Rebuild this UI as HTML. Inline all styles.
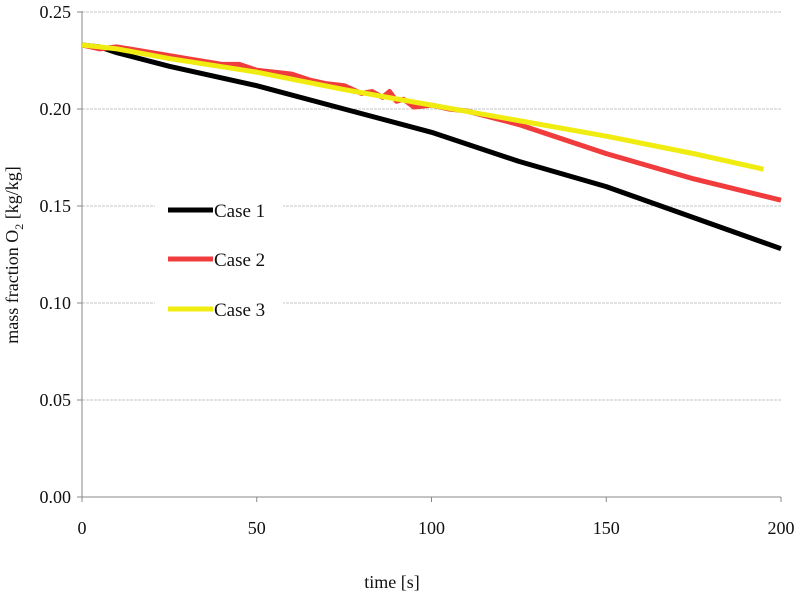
<!DOCTYPE html>
<html><head><meta charset="utf-8"><style>
body{margin:0;background:#fff}
svg text{font-family:"Liberation Serif",serif;fill:#111}
</style></head><body>
<svg width="800" height="600" id="c"></svg>
<script>
const xTicks=[0,50,100,150,200];
const yTicks=[0,0.05,0.10,0.15,0.20,0.25];
const yTickLabels=["0.00","0.05","0.10","0.15","0.20","0.25"];
const case1T=[0,5,10,25,50,75,100,125,150,175,200];
const case1V=[0.233,0.232,0.229,0.222,0.212,0.200,0.188,0.173,0.160,0.144,0.128];
const case2T=[0,5,10,20,30,40,45,50,60,65,70,75,80,83,86,88,90,92,95,100,105,110,125,150,175,200];
const case2V=[0.233,0.231,0.232,0.229,0.226,0.223,0.223,0.220,0.218,0.215,0.213,0.212,0.208,0.209,0.206,0.209,0.204,0.205,0.201,0.202,0.200,0.199,0.192,0.177,0.164,0.153];
const case3T=[0,5,10,25,50,75,100,125,150,175,195];
const case3V=[0.233,0.232,0.231,0.226,0.219,0.210,0.202,0.194,0.186,0.177,0.169];
const svg=document.getElementById('c');const NS='http://www.w3.org/2000/svg';
const X=t=>82+t/200*699, Y=v=>497-v/0.25*485;
function mk(tag,a,p){const e=document.createElementNS(NS,tag);for(const k in a)e.setAttribute(k,a[k]);(p||svg).appendChild(e);return e;}
yTicks.forEach((v,i)=>{
 if(v>0){const g=mk('line',{x1:82,x2:781,y1:Y(v),y2:Y(v),stroke:'#c4c4c4','stroke-dasharray':'3,1'});
 
 }
 mk('line',{x1:77,x2:82,y1:Y(v),y2:Y(v),stroke:'#888'});
 const t=mk('text',{x:71,y:Y(v)+6,'text-anchor':'end','font-size':18});t.textContent=yTickLabels[i];
 
 
});
xTicks.forEach(v=>{
 mk('line',{x1:X(v),x2:X(v),y1:497,y2:502,stroke:'#888'});
 const t=mk('text',{x:X(v),y:534,'text-anchor':'middle','font-size':18});t.textContent=v;
 
 
});
mk('line',{x1:82,x2:82,y1:11,y2:497,stroke:'#888'});
mk('line',{x1:82,x2:781,y1:497,y2:497,stroke:'#888'});
const lg=mk('rect',{x:155,y:190,width:128,height:140,fill:'#fff'});


function series(T,V,col,name){const p=mk('polyline',{points:T.map((t,i)=>X(t)+','+Y(V[i])).join(' '),fill:'none',stroke:col,'stroke-width':5,'stroke-linejoin':'round'});
 
 }
series(case1T,case1V,'#000','series-case-1');
series(case2T,case2V,'#f03c3c','series-case-2');
series(case3T,case3V,'#f0ec10','series-case-3');
[['#000','Case 1',210],['#f03c3c','Case 2',259],['#f0ec10','Case 3',309]].forEach(([c,l,y])=>{
 mk('line',{x1:168,x2:213,y1:y,y2:y,stroke:c,'stroke-width':5});
 const t=mk('text',{x:214,y:y+7,'font-size':19});t.textContent=l;
 
 
});
const xt=mk('text',{x:392,y:588,'text-anchor':'middle','font-size':18});xt.textContent='time [s]';


const yt=mk('text',{x:0,y:0,'text-anchor':'middle','font-size':18,transform:'translate(18,255) rotate(-90)'});
yt.innerHTML='mass fraction O<tspan font-size="12" dy="5">2</tspan><tspan dy="-5"> [kg/kg]</tspan>';


</script>
</body></html>
